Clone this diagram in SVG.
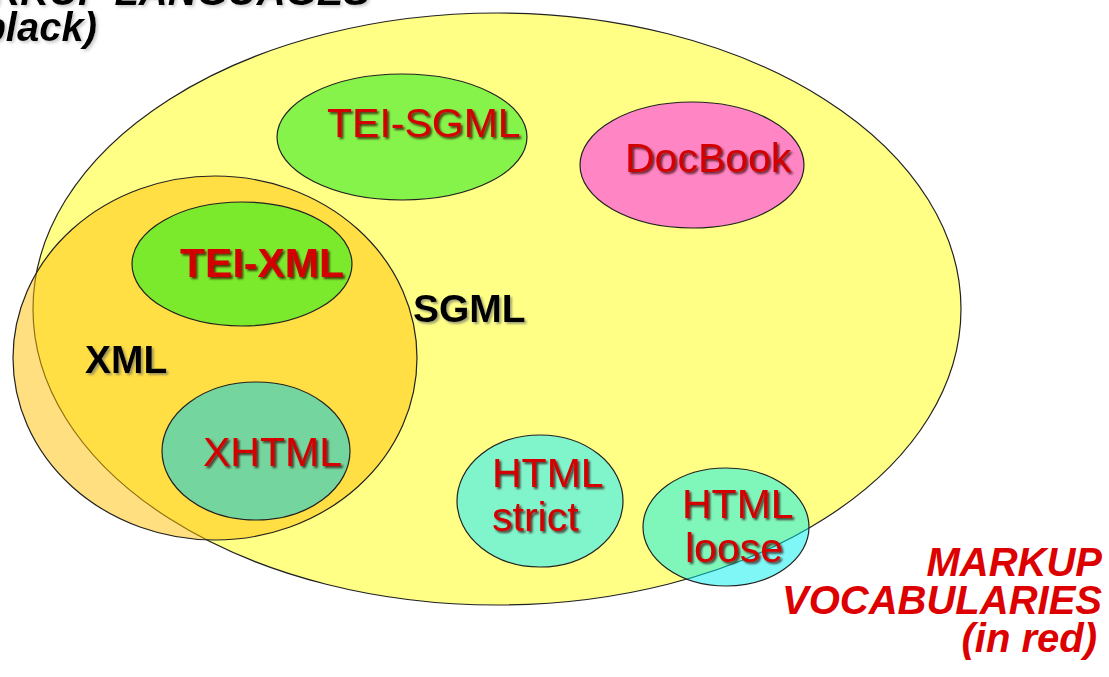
<svg xmlns="http://www.w3.org/2000/svg" width="1109" height="677" viewBox="0 0 1109 677">
  <defs>
    <filter id="shRed" x="-10%" y="-20%" width="130%" height="150%">
      <feDropShadow dx="2" dy="2" stdDeviation="1" flood-color="#300000" flood-opacity="0.75"/>
    </filter>
    <filter id="shBlack" x="-10%" y="-20%" width="130%" height="150%">
      <feDropShadow dx="2" dy="2" stdDeviation="1.2" flood-color="#666666" flood-opacity="0.6"/>
    </filter>
    <filter id="shSoft" x="-10%" y="-20%" width="130%" height="150%">
      <feDropShadow dx="2" dy="2" stdDeviation="1.5" flood-color="#999999" flood-opacity="0.5"/>
    </filter>
  </defs>
  <style>
    .set { stroke: #222; stroke-width: 1.2; }
    .lbl { font-family: "Liberation Sans", Arial, sans-serif; font-size: 41px; fill: #D40000; filter: url(#shRed); }
    .lang { font-family: "Liberation Sans", Arial, sans-serif; font-size: 39px; font-weight: bold; fill: #000; filter: url(#shBlack); }
    .note { font-family: "Liberation Sans", Arial, sans-serif; font-size: 40px; font-weight: bold; font-style: italic; text-anchor: end; }
  </style>
  <rect width="1109" height="677" fill="#ffffff"/>

  <g id="title-languages">
    <text class="note" x="370" y="5" fill="#000" filter="url(#shSoft)">MARKUP LANGUAGES</text>
    <text class="note" x="97" y="41" fill="#000" filter="url(#shSoft)">(in black)</text>
  </g>

  <g id="sgml">
    <ellipse class="set" cx="497" cy="309" rx="464" ry="296" fill="#FFFF86"/>
    <text class="lang" x="413" y="322">SGML</text>
  </g>

  <g id="xml">
    <ellipse class="set" cx="215" cy="358" rx="202" ry="182" fill="#FFC000" fill-opacity="0.5"/>
    <text class="lang" x="85" y="373">XML</text>
  </g>

  <g id="tei-sgml">
    <ellipse class="set" cx="402" cy="137" rx="125" ry="63" fill="#86F34A"/>
    <text class="lbl" x="327" y="137">TEI-SGML</text>
  </g>

  <g id="docbook">
    <ellipse class="set" cx="692" cy="165" rx="112" ry="63" fill="#FF85C4"/>
    <text class="lbl" x="625" y="172">DocBook</text>
  </g>

  <g id="tei-xml">
    <ellipse class="set" cx="242" cy="264" rx="110" ry="62" fill="#7CEA2C"/>
    <text class="lbl" x="180" y="277" font-weight="bold">TEI-XML</text>
  </g>

  <g id="xhtml">
    <ellipse class="set" cx="256" cy="451" rx="94" ry="69" fill="#74D69E"/>
    <text class="lbl" x="203" y="466">XHTML</text>
  </g>

  <g id="html-strict">
    <ellipse class="set" cx="540" cy="501" rx="83" ry="66" fill="#80F5CC"/>
    <text class="lbl" x="492" y="487">HTML</text>
    <text class="lbl" x="492" y="531">strict</text>
  </g>

  <g id="html-loose">
    <ellipse class="set" cx="726" cy="527" rx="83" ry="59" fill="#00F0F0" fill-opacity="0.5"/>
    <text class="lbl" x="682" y="518">HTML</text>
    <text class="lbl" x="685" y="562">loose</text>
  </g>

  <g id="title-vocabularies">
    <text class="note" x="1102" y="576" fill="#DD0000">MARKUP</text>
    <text class="note" x="1102" y="614" fill="#DD0000">VOCABULARIES</text>
    <text class="note" x="1097" y="652" fill="#DD0000">(in red)</text>
  </g>

  <g id="connectors"></g>
</svg>
